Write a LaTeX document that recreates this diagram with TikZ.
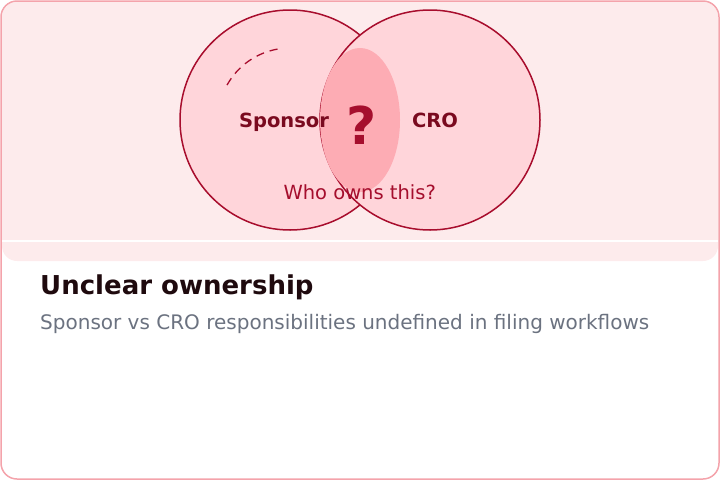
\documentclass[tikz,border=0pt]{standalone}
\usepackage{fontspec}
\setmainfont{DejaVu Sans}
\usetikzlibrary{shapes.geometric}
\definecolor{cardline}{HTML}{F4A3AB}
\definecolor{headerbg}{HTML}{FDEBEC}
\definecolor{setfill}{HTML}{FFD5DA}
\definecolor{setline}{HTML}{A80D2D}
\definecolor{overlapfill}{HTML}{FDACB4}
\definecolor{tagtext}{HTML}{7A0A1F}
\definecolor{asktext}{HTML}{A50E2D}
\definecolor{titletext}{HTML}{1F0A0E}
\definecolor{subtext}{HTML}{6B7280}
\begin{document}
\begin{tikzpicture}[x=1pt, y=1pt,
    set/.style = {draw=setline, fill=setfill, circle, line width=1.5pt, minimum size=220pt, inner sep=0pt},
    overlap/.style = {ellipse, fill=overlapfill, minimum width=80pt, minimum height=144pt, inner sep=0pt},
    tag/.style = {font=\bfseries\fontsize{19.5}{23}\selectfont, text=tagtext, anchor=base}]
  \useasboundingbox (0,0) rectangle (720,-480);

  % header band
  \fill[headerbg, rounded corners=15pt] (2,-2) rectangle (718,-261);
  \draw[white, line width=2pt] (2,-241) -- (718,-241);

  % the two sets and their overlap
  \node[set](sponsor) at (290,-120) {};
  \node[set](cro) at (430,-120) {};
  \node[overlap](mid) at (360,-120) {};
  \draw[setline, line width=1.3pt, dash pattern=on 8pt off 6pt]
    ([shift={(151:72)}]sponsor.center) arc (151:100:72);

  \node[tag](sponsorlbl) at (284,-127.3) {Sponsor};
  \node[tag](crolbl) at (435,-127.3) {CRO};
  \node[font=\bfseries\fontsize{52}{60}\selectfont, text=asktext, anchor=base](ask) at (361.5,-144) {?};
  \node[font=\fontsize{19.5}{23}\selectfont, text=asktext, anchor=base](owner) at (359.7,-199) {Who owns this?};

  % card text
  \node[font=\bfseries\fontsize{26}{30}\selectfont, text=titletext, anchor=base west, inner sep=0pt](title) at (40,-294.7) {Unclear ownership};
  \node[font=\fontsize{20}{24}\selectfont, text=subtext, anchor=base west, inner sep=0pt](subtitle) at (40,-329.5) {Sponsor vs CRO responsibilities undefined in filing workflows};

  \draw[cardline, line width=1.5pt, rounded corners=16pt] (1,-1) rectangle (719,-479);
\end{tikzpicture}
\end{document}
